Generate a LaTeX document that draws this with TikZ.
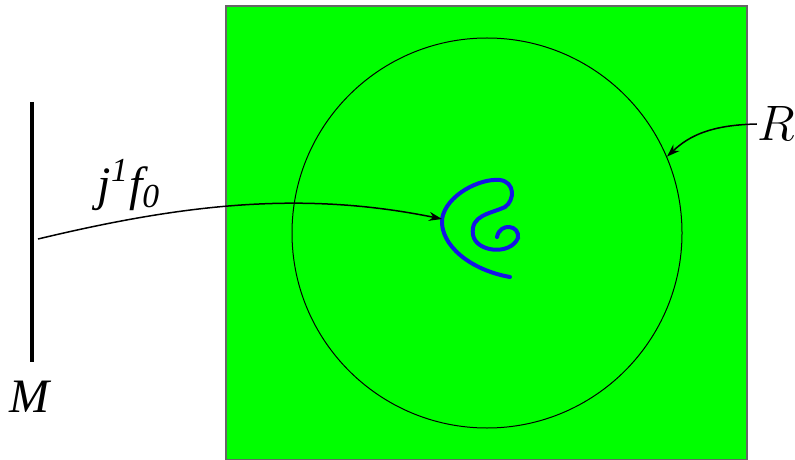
\documentclass[tikz,border=0pt]{standalone}
\usepackage{amsmath,amssymb}
\usepackage{fontspec}
\newfontfamily\timesfont{Liberation Serif}
\usetikzlibrary{positioning,arrows.meta,calc}
\definecolor{setgreen}{HTML}{00FF00}
\definecolor{spiralblue}{HTML}{1414E6}

\begin{document}
\begin{tikzpicture}[
    x=0.5pt, y=-0.5pt,
    label/.style={font=\fontsize{23}{28}\selectfont, inner sep=0pt},
    tlabel/.style={font=\timesfont\itshape\fontsize{24}{28}\selectfont, inner sep=0pt},
    arrow/.style={-{Stealth[length=6.5pt,width=4.5pt]}, line width=0.75pt},
]
\useasboundingbox (0,0) rectangle (795,459);
\draw[fill=setgreen, draw=black!60, line width=0.6pt] (226,6) rectangle (747,460);

\node[circle, draw, line width=0.5pt, minimum size=195pt, inner sep=0pt] (disk) at (487,233) {};

% the manifold M
\coordinate (mtop) at (32,102);
\coordinate (mbot) at (32,362);
\draw[line width=2pt] (mtop) -- (mbot);
\node[tlabel] (mlab) at (29,397) {M};
\coordinate (src) at (38,239);

% the jet
\coordinate (jet) at (442,219);
\draw[line width=2pt, spiralblue, line cap=round]
    (510,277) .. controls (470,270) and (440,245) .. (jet)
    .. controls (446,195) and (480,178) .. (500,180)
    .. controls (515,182) and (515,200) .. (505,207)
    .. controls (490,214) and (470,215) .. (473,235)
    .. controls (476,252) and (510,256) .. (518,238)
    .. controls (520,225) and (500,222) .. (497,237);
\node[tlabel] (jlab) at (129,185) {j\textsuperscript{1}f\textsubscript{0}};
\draw[arrow] (src) .. controls (180,205) and (300,190) .. (jet);

% the region R
\node[label] (rlab) at (776,124) {$R$};
\draw[arrow] (rlab.west) .. controls (712,125) and (690,135) .. (disk.23);
\end{tikzpicture}
\end{document}
